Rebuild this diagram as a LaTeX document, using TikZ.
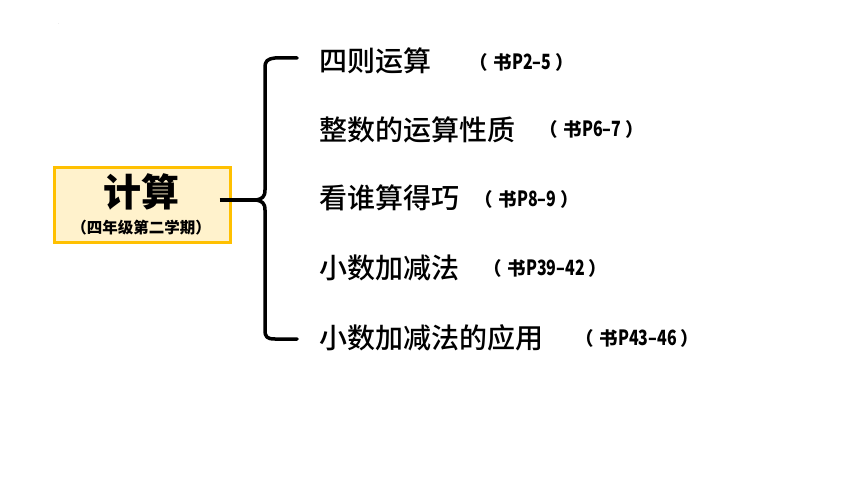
\documentclass[tikz,border=0pt]{standalone}
\usepackage{fontspec}
\setmainfont{Noto Sans CJK SC}
\newfontfamily\medfont{Noto Sans CJK SC Medium}
\newfontfamily\latnfont{Noto Sans CJK SC Bold}[FakeStretch=0.76]
\newcommand\pref[1]{（\hspace{6pt}书{\latnfont\fontsize{21}{22}\selectfont #1}\hspace{4pt}）}
\definecolor{boxfill}{HTML}{FFF2CC}
\definecolor{boxline}{HTML}{FFC000}
\begin{document}
\begin{tikzpicture}[x=1pt,y=-1pt,
  item/.style={anchor=west,inner sep=0pt,font=\medfont\fontsize{28}{30}\selectfont},
  ref/.style={anchor=west,inner sep=0pt,font=\bfseries\fontsize{18.5}{22}\selectfont},
  bracket/.style={line width=3.5pt,black,line cap=round,line join=round}]
\useasboundingbox (0,0) rectangle (860,484);
\node[inner sep=0pt,font=\fontsize{4}{4}\selectfont,text=gray] (dot) at (59,24) {.};
\node[draw=boxline,fill=boxfill,line width=3pt,minimum width=176pt,minimum height=75pt,inner sep=0pt] (calc) at (142,205) {};
\node[inner sep=0pt,font=\fontsize{38}{40}\selectfont\bfseries] (title) at (141,192) {计算};
\node[inner sep=0pt,font=\bfseries\fontsize{15.5}{17}\selectfont] (sub) at (141,228) {（四年级第二学期）};
\coordinate (tip) at (256,200);
\coordinate (top) at (297,58);
\coordinate (bot) at (297,339);
\draw[bracket] (top) -- (275,58) .. controls (267,59) and (265,61) .. (265,68) -- (265,190) .. controls (265,197) and (262,199) .. (tip) .. controls (262,201) and (265,203) .. (265,210) -- (265,330) .. controls (265,337) and (267,339) .. (275,339) -- (bot);
\draw[bracket,line cap=butt] ([xshift=-12pt,yshift=5pt]calc.east) -- (tip);
\node[item] (i1) at (319,61) {四则运算};
\node[item] (i2) at (319,130) {整数的运算性质};
\node[item] (i3) at (319,198) {看谁算得巧};
\node[item] (i4) at (319,268) {小数加减法};
\node[item] (i5) at (319,338) {小数加减法的应用};
\node[ref] (r1) at (469,62) {\pref{P2–5}};
\node[ref] (r2) at (539,129) {\pref{P6–7}};
\node[ref] (r3) at (474,199) {\pref{P8–9}};
\node[ref] (r4) at (483,268) {\pref{P39–42}};
\node[ref] (r5) at (575,338) {\pref{P43–46}};
\end{tikzpicture}
\end{document}
